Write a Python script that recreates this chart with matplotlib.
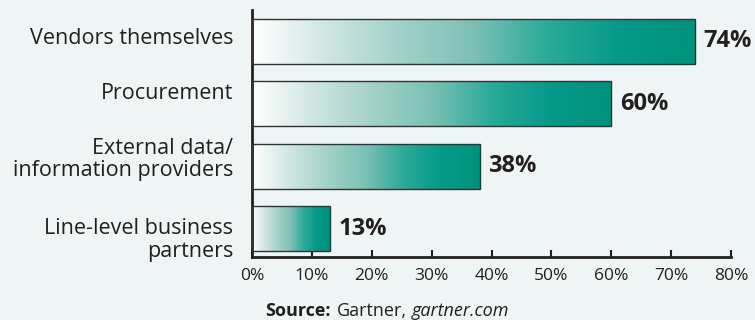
import matplotlib
matplotlib.use('Agg')
import matplotlib.pyplot as plt
import matplotlib.transforms as mtransforms
import numpy as np
from matplotlib.colors import LinearSegmentedColormap

categories = ['Vendors themselves', 'Procurement', 'External data/\ninformation providers',
              'Line-level business\npartners']
values = [74, 60, 38, 13]
xticks = [0, 10, 20, 30, 40, 50, 60, 70, 80]

bg = '#eef5f4'
cmap = LinearSegmentedColormap.from_list(
    'teal', ['#ffffff', '#cfe6e2', '#a2d1c9', '#7cc0b5', '#2aaa98', '#04998a', '#00927b'],
)

plt.rcParams['font.family'] = ['Open Sans', 'DejaVu Sans']
fig = plt.figure(figsize=(7.55, 3.2), dpi=100, facecolor=bg)
ax = fig.add_axes([0.3338, 0.197, 0.6344, 0.772])
ax.set_facecolor(bg)

ypos = np.arange(len(values))[::-1]
bars = ax.barh(ypos, values, height=0.72, facecolor='none', edgecolor='#333333',
               linewidth=1.0, zorder=3)

grad = np.linspace(0, 1, 256).reshape(1, -1)
for b, v in zip(bars, values):
    x0, y0 = b.get_x(), b.get_y()
    im = ax.imshow(grad, cmap=cmap, aspect='auto', zorder=2,
                   extent=(x0, x0 + b.get_width(), y0, y0 + b.get_height()))
    im.set_clip_path(b)
    ax.text(v + 1.4, b.get_y() + b.get_height() / 2, f'{v}%', va='center', ha='left',
            fontsize=17, fontweight='bold', color='#231f20')

ax.set_xlim(0, 80)
ax.set_ylim(-0.448, 3.504)
ax.set_yticks(ypos)
ax.set_yticklabels([])
ax.set_xticks(xticks)
ax.set_xticklabels([f'{t}%' for t in xticks], fontsize=12.5, color='#231f20')
ax.tick_params(axis='y', length=0)
ax.tick_params(axis='x', direction='in', length=5, width=1.5, color='#231f20', pad=8)

# category labels, nudged like in the original layout
nudge = [0.05, 0.16, 0.11, -0.18]
trans = mtransforms.offset_copy(ax.get_yaxis_transform(), fig=fig, x=-19, y=0, units='dots')
for y, lab, n in zip(ypos, categories, nudge):
    ax.text(0, y + n, lab, transform=trans, ha='right', va='center', fontsize=15.5,
            color='#231f20', linespacing=1.09, multialignment='right')

for s in ['top', 'right']:
    ax.spines[s].set_visible(False)
for s in ['left', 'bottom']:
    ax.spines[s].set_linewidth(2)
    ax.spines[s].set_color('#231f20')

fig.text(0.351, 0.011, 'Source:', fontsize=13, fontweight='bold', color='#231f20',
         ha='left', va='baseline')
fig.text(0.446, 0.011, 'Gartner,', fontsize=13, color='#231f20', ha='left', va='baseline')
fig.text(0.545, 0.011, 'gartner.com', fontsize=13, style='italic', color='#231f20',
         ha='left', va='baseline')

fig.savefig('out.png', dpi=100, facecolor=bg)
